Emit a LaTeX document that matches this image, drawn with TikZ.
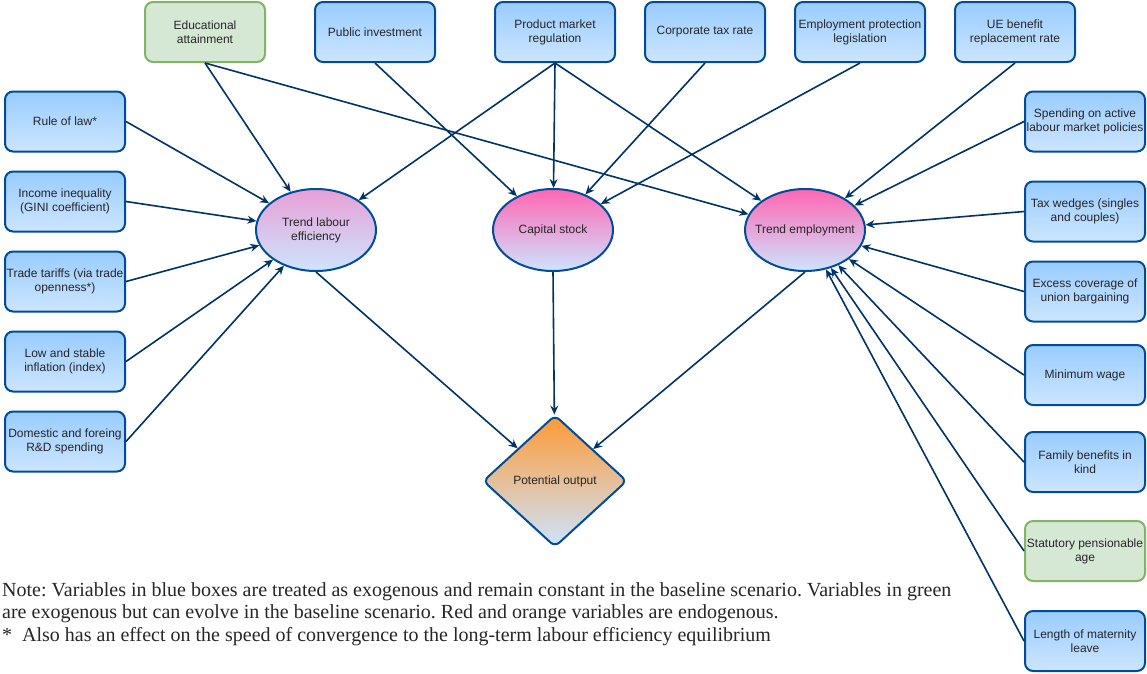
\documentclass[tikz,border=0pt]{standalone}
\usepackage{fontspec}
\setmainfont{Liberation Serif}
\setsansfont{Liberation Sans}
\usetikzlibrary{arrows.meta, shapes.geometric, positioning}

\definecolor{boxline}{HTML}{004C99}
\definecolor{arrowline}{HTML}{003366}
\definecolor{greenline}{HTML}{82B366}
\definecolor{greenfill}{HTML}{D5E8D4}
\definecolor{bluetop}{HTML}{99CCFF}
\definecolor{bluebot}{HTML}{CCE5FF}
\definecolor{pinktop}{HTML}{FF66B3}
\definecolor{orangetop}{HTML}{FF9933}

\begin{document}
\begin{tikzpicture}[x=1pt, y=-1pt,
    >={Stealth[length=9pt,width=8pt,inset=3pt]},
    every node/.style={font=\sffamily\fontsize{12}{14}\selectfont, text=black!85, align=center},
    exo/.style={draw=boxline, line width=2pt, rounded corners=8pt,
        top color=bluetop, bottom color=bluebot,
        minimum width=120pt, minimum height=60pt, inner sep=1pt},
    evolving/.style={exo, draw=greenline, top color=greenfill, bottom color=greenfill},
    endo/.style={ellipse, draw=boxline, line width=2pt,
        top color=pinktop, bottom color=bluebot,
        minimum width=120pt, minimum height=82pt, inner xsep=-9pt, inner ysep=0pt},
    output/.style={diamond, draw=boxline, line width=2pt, rounded corners=6pt,
        top color=orangetop, bottom color=bluebot, aspect=1.09,
        minimum width=144pt, minimum height=132pt, inner sep=0pt},
    link/.style={->, color=arrowline, line width=1.6pt}]

    \useasboundingbox (0,0) rectangle (1147,673);

    % top row
    \node[evolving] (edu) at (205,32)  {Educational\\attainment};
    \node[exo]      (pub) at (375,32)  {Public investment};
    \node[exo]      (pmr) at (555,32)  {Product market\\regulation};
    \node[exo]      (ctr) at (705,32)  {Corporate tax rate};
    \node[exo, minimum width=130pt] (epl) at (860,32) {Employment protection\\legislation};
    \node[exo]      (ueb) at (1015,32) {UE benefit\\replacement rate};

    % left column
    \node[exo] (law)  at (65,121.5) {Rule of law*};
    \node[exo] (gini) at (65,201.5) {Income inequality\\(GINI coefficient)};
    \node[exo] (trd)  at (65,281.5) {Trade tariffs (via trade\\openness*)};
    \node[exo] (inf)  at (65,361.5) {Low and stable\\inflation (index)};
    \node[exo] (rnd)  at (65,441.5) {Domestic and foreing\\R\&D spending};

    % right column
    \node[exo]      (almp) at (1085,121.5) {Spending on active\\labour market policies};
    \node[exo]      (tax)  at (1085,211.5) {Tax wedges (singles\\and couples)};
    \node[exo]      (ubc)  at (1085,291.5) {Excess coverage of\\union bargaining};
    \node[exo]      (minw) at (1085,375)   {Minimum wage};
    \node[exo]      (fam)  at (1085,462)   {Family benefits in\\kind};
    \node[evolving] (pens) at (1085,551)   {Statutory pensionable\\age};
    \node[exo]      (mat)  at (1085,641)   {Length of maternity\\leave};

    % endogenous
    \node[endo, top color=pinktop!55!bluebot] (tle) at (316,230) {Trend labour\\efficiency};
    \node[endo] (cap) at (553,230) {Capital stock};
    \node[endo] (emp) at (805,230) {Trend employment};
    \node[output] (po) at (555,481) {Potential output};

    \path[link]
    (edu.south) edge (tle)
    (edu.south) edge (emp)
    (pub.south) edge (cap)
    (pmr.south) edge (tle)
    (pmr.south) edge (cap)
    (pmr.south) edge (emp)
    (ctr.south) edge (cap)
    (epl.south) edge (cap)
    (ueb.south) edge (emp)
    (law.east)  edge (tle)
    (gini.east) edge (tle)
    (trd.east)  edge (tle)
    (inf.east)  edge (tle)
    (rnd.east)  edge (tle)
    (almp.west) edge (emp)
    (tax.west)  edge (emp)
    (ubc.west)  edge (emp)
    (minw.west) edge (emp)
    (fam.west)  edge (emp)
    (pens.west) edge (emp)
    (mat.west)  edge (emp)
    (tle.south) edge (po)
    (cap.south) edge (po)
    (emp.south) edge (po)
    ;

    \node[font=\rmfamily\frenchspacing\fontsize{20}{22.5}\selectfont, align=left, anchor=north west,
        inner sep=0pt, text=black!85] (note) at (2,582)
    {Note: Variables in blue boxes are treated as exogenous and remain constant in the baseline scenario. Variables in green\\
     are exogenous but can evolve in the baseline scenario. Red and orange variables are endogenous.\\
     *\ \ Also has an effect on the speed of convergence to the long-term labour efficiency equilibrium};
\end{tikzpicture}
\end{document}
